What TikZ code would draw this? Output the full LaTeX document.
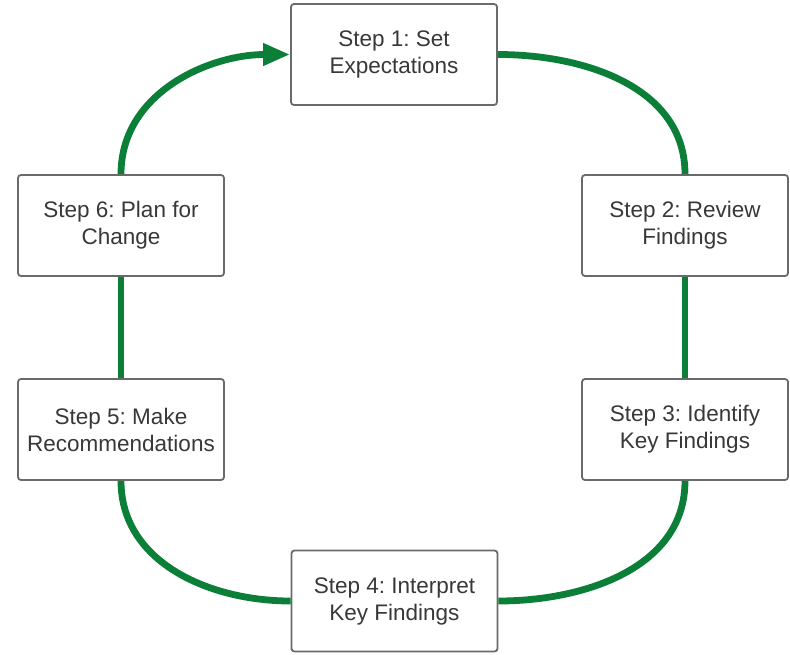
\documentclass[tikz,border=0pt]{standalone}
\usepackage{fontspec}
\setmainfont{Liberation Sans}
\frenchspacing
\usetikzlibrary{arrows.meta}
\definecolor{flowgreen}{HTML}{0B7F38}
\definecolor{boxline}{HTML}{6A6A6A}
\definecolor{boxtext}{HTML}{383838}
\tikzset{
  stepbox/.style={draw=boxline, line width=1.8pt, rounded corners=3pt, fill=white,
    minimum width=206pt, minimum height=101pt, align=center, text=boxtext,
    font=\fontsize{22.5}{27}\selectfont, inner sep=0pt},
  flow/.style={draw=flowgreen, line width=6.8pt},
}
\begin{document}
\begin{tikzpicture}[x=1pt,y=-1pt]
  \useasboundingbox (0,0) rectangle (790,654);
  % the six steps of the cycle
  \node[stepbox] (s1) at (394,54.5) {Step 1: Set\\Expectations};
  \node[stepbox] (s2) at (685,225.5) {Step 2: Review\\Findings};
  \node[stepbox] (s3) at (685,429.5) {Step 3: Identify\\Key Findings};
  \node[stepbox] (s4) at (394.5,601) {Step 4: Interpret\\Key Findings};
  \node[stepbox] (s5) at (121,429.5) {Step 5: Make\\Recommendations};
  \node[stepbox] (s6) at (121,225.5) {Step 6: Plan for\\Change};
  % connectors around the loop
  \draw[flow] (s1.east) to[out=0,in=90] (s2.north);
  \draw[flow] (s2.south) -- (s3.north);
  \draw[flow] (s3.south) to[out=-90,in=0] (s4.east);
  \draw[flow] (s4.west) to[out=180,in=-90] (s5.south);
  \draw[flow] (s5.north) -- (s6.south);
  \draw[flow, -{Triangle[length=27pt,width=21pt]}] (s6.north) to[out=90,in=180] (s1.west);
\end{tikzpicture}
\end{document}
